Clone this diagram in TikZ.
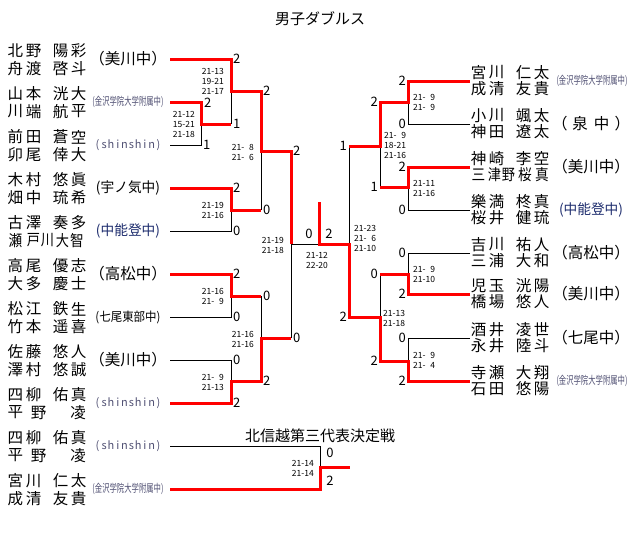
\documentclass[tikz,border=0pt]{standalone}
\usepackage{fontspec}
\setmainfont{Noto Sans CJK JP}
\usepackage{graphicx}
\usetikzlibrary{calc}
\definecolor{redline}{RGB}{255,0,0}
\definecolor{grayblue}{RGB}{80,80,115}
\definecolor{navyt}{RGB}{30,45,110}
\tikzset{
  redl/.style={draw=redline, line width=3pt},
  blkl/.style={draw=black, line width=1pt},
  nmc/.style={inner sep=0pt, font=\fontsize{15.5}{16}\selectfont},
  gscore/.style={inner sep=0pt, font=\fontsize{13}{13}\selectfont},
  mscL/.style={inner sep=0pt, anchor=east, align=right, font=\fontsize{8.5}{10}\selectfont},
  mscR/.style={inner sep=0pt, anchor=west, align=left, font=\fontsize{8.5}{10}\selectfont},
  mscC/.style={inner sep=0pt, align=center, font=\fontsize{8.5}{10}\selectfont},
  schoolbox/.style={inner sep=0pt},
  titlebox/.style={inner sep=0pt, font=\fontsize{15}{15}\selectfont},
}
\newcommand\pn[7]{%
  \node[nmc] (#1a) at ({#2},{#3}) {#4};
  \node[nmc] (#1b) at ({#2+18},{#3}) {#5};
  \node[nmc] (#1c) at ({#2+45},{#3}) {#6};
  \node[nmc] (#1d) at ({#2+63},{#3}) {#7};}
\newcommand\schBig[4]{\node[schoolbox, font=\fontsize{15.5}{16}\selectfont] (#1) at (#2,#3) {#4};}
\newcommand\schUno[4]{\node[schoolbox] (#1) at (#2,#3) {\resizebox{64pt}{\height}{\fontsize{14}{14}\selectfont #4}};}
\newcommand\schNot[3]{\node[schoolbox, text=navyt] (#1) at (#2,#3) {\resizebox{64pt}{\height}{\fontsize{14}{14}\selectfont (中能登中)}};}
\newcommand\schNan[4]{\node[schoolbox] (#1) at (#2,#3) {\resizebox{65pt}{\height}{\fontsize{12.5}{13}\selectfont #4}};}
\newcommand\schKan[3]{\node[schoolbox, text=grayblue] (#1) at (#2,#3) {\resizebox{71pt}{\height}{\fontsize{11}{11}\selectfont (金沢学院大学附属中)}};}
\newcommand\lc[1]{\makebox[6.8pt]{#1}}
\newcommand\schShin[3]{\node[schoolbox, text=grayblue, font=\fontsize{11}{11}\selectfont] (#1) at (#2,#3) {\lc(\lc s\lc h\lc i\lc n\lc s\lc h\lc i\lc n\lc)};}
\begin{document}
\begin{tikzpicture}[x=1pt,y=-1pt]
\useasboundingbox[fill=white] (0,0) rectangle (640,541);
\node[titlebox] (title) at (320,18.5) {男子ダブルス};
\node[titlebox] (title2) at (320,436) {北信越第三代表決定戦};

% ---------- coordinates ----------
\coordinate (L1) at (170,59);  \coordinate (L2) at (170,102); \coordinate (L3) at (170,145);
\coordinate (L4) at (170,188); \coordinate (L5) at (170,231); \coordinate (L6) at (170,274);
\coordinate (L7) at (170,317); \coordinate (L8) at (170,360); \coordinate (L9) at (170,403);
\coordinate (M1) at (201,124); \coordinate (M2) at (231,91);  \coordinate (M3) at (231,210);
\coordinate (M4) at (261,151); \coordinate (M5) at (231,296); \coordinate (M6) at (231,381);
\coordinate (M7) at (261,338); \coordinate (M8) at (291,244);
\coordinate (F) at (319,244);  \coordinate (FT) at (319,202);
\coordinate (R1) at (470,81);  \coordinate (R2) at (470,124); \coordinate (R3) at (470,167);
\coordinate (R4) at (470,210); \coordinate (R5) at (470,253); \coordinate (R6) at (470,294);
\coordinate (R7) at (470,338); \coordinate (R8) at (470,381);
\coordinate (N1) at (408,102); \coordinate (N2) at (408,187); \coordinate (N3) at (380,146);
\coordinate (N4) at (408,274); \coordinate (N5) at (408,361); \coordinate (N6) at (380,317);
\coordinate (N7) at (349,244);
\coordinate (B1) at (170,446); \coordinate (B2) at (170,489);
\coordinate (BM) at (320,467); \coordinate (BE) at (350,467);

% ---------- black lines ----------
\draw[blkl] (L3) -| (M1);
\draw[blkl] (M1 -| M2) -- (M2);
\draw[blkl] (L5) -| (M3);
\draw[blkl] (M3 -| M4) -- (M4);
\draw[blkl] (L7) -| (M5);
\draw[blkl] (L8) -| (M6);
\draw[blkl] (M5 -| M7) -- (M7);
\draw[blkl] (M7 -| M8) -- (M8) -- (F);
\draw[blkl] (R2) -| (N1);
\draw[blkl] (R4) -| (N2);
\draw[blkl] (N2 -| N3) -- (N3);
\draw[blkl] (R5) -| (N4);
\draw[blkl] (R7) -| (N5);
\draw[blkl] (N4 -| N6) -- (N6);
\draw[blkl] (N3 -| N7) -- (N7);
\draw[blkl] (B1) -| (BM);

% ---------- red lines ----------
\draw[redl] (L1) -| (M2) -| (M4) -| (M8);
\draw[redl] (L2) -| (M1) -- (M1 -| M2);
\draw[redl] (L4) -| (M3) -- (M3 -| M4);
\draw[redl] (L6) -| (M5) -- (M5 -| M7);
\draw[redl] (L9) -| (M6) -| (M7) -- (M7 -| M8);
\draw[redl] (R8) -| (N5) -| (N6) -| (N7) -| (FT);
\draw[redl] (R1) -| (N1) -| (N3) -- (N3 -| N7);
\draw[redl] (R3) -| (N2) -- (N2 -| N3);
\draw[redl] (R6) -| (N4) -- (N4 -| N6);
\draw[redl] (B2) -| (BM) -- (BE);

% ---------- game counts ----------
\node[gscore, anchor=west] (g1) at (204,103) {2};
\node[gscore, anchor=west] (g2) at (203,145) {1};
\node[gscore, anchor=west] (g3) at (233,59) {2};
\node[gscore, anchor=west] (g4) at (233,124) {1};
\node[gscore, anchor=west] (g5) at (233,188) {2};
\node[gscore, anchor=west] (g6) at (233,231) {0};
\node[gscore, anchor=west] (g7) at (263,91) {2};
\node[gscore, anchor=west] (g8) at (263,210) {0};
\node[gscore, anchor=west] (g9) at (233,274) {2};
\node[gscore, anchor=west] (g10) at (233,317) {0};
\node[gscore, anchor=west] (g11) at (233,360) {0};
\node[gscore, anchor=west] (g12) at (233,403) {2};
\node[gscore, anchor=west] (g13) at (263,296) {0};
\node[gscore, anchor=west] (g14) at (263,381) {2};
\node[gscore, anchor=west] (g15) at (293,151) {2};
\node[gscore, anchor=west] (g16) at (293,338) {0};
\node[gscore] (g17) at (309,234) {0};
\node[gscore] (g18) at (329,234) {2};
\node[gscore, anchor=east] (h1) at (406,81) {2};
\node[gscore, anchor=east] (h2) at (406,124) {0};
\node[gscore, anchor=east] (h3) at (406,167) {2};
\node[gscore, anchor=east] (h4) at (406,210) {0};
\node[gscore, anchor=east] (h5) at (378,102) {2};
\node[gscore, anchor=east] (h6) at (378,187) {1};
\node[gscore, anchor=east] (h7) at (406,253) {0};
\node[gscore, anchor=east] (h8) at (406,294) {2};
\node[gscore, anchor=east] (h9) at (406,338) {0};
\node[gscore, anchor=east] (h10) at (406,381) {2};
\node[gscore, anchor=east] (h11) at (378,274) {0};
\node[gscore, anchor=east] (h12) at (378,361) {2};
\node[gscore, anchor=east] (h13) at (347,146) {1};
\node[gscore, anchor=east] (h14) at (347,317) {2};
\node[gscore] (b1) at (330,453) {0};
\node[gscore] (b2) at (330,481) {2};

% ---------- match scores ----------
\node[mscL] (s1) at (195,124) {21-12\\15-21\\21-18};
\node[mscL] (s2) at (224,81) {21-13\\19-21\\21-17};
\node[mscL] (s3) at (224,210) {21-19\\21-16};
\node[mscL] (s4) at (254,152) {21-\phantom{0}8\\21-\phantom{0}6};
\node[mscL] (s5) at (224,296) {21-16\\21-\phantom{0}9};
\node[mscL] (s6) at (224,382) {21-\phantom{0}9\\21-13};
\node[mscL] (s7) at (254,339) {21-16\\21-16};
\node[mscL] (s8) at (284,245) {21-19\\21-18};
\node[mscR] (t1) at (413,102) {21-\phantom{0}9\\21-\phantom{0}9};
\node[mscR] (t2) at (413,188) {21-11\\21-16};
\node[mscR] (t3) at (384,145) {21-\phantom{0}9\\18-21\\21-16};
\node[mscR] (t4) at (413,274) {21-\phantom{0}9\\21-10};
\node[mscR] (t5) at (413,360) {21-\phantom{0}9\\21-\phantom{0}4};
\node[mscR] (t6) at (383,318) {21-13\\21-18};
\node[mscR] (t7) at (354,238) {21-23\\21-\phantom{0}6\\21-10};
\node[mscC] (sf) at (317,260) {21-12\\22-20};
\node[mscL] (sb) at (314,468) {21-14\\21-14};

% ---------- left names ----------
\pn{a1}{15.5}{51}{北}{野}{陽}{彩}   \pn{a2}{15.5}{68.5}{舟}{渡}{啓}{斗}
\pn{b1n}{15.5}{94}{山}{本}{洸}{大}  \pn{b2n}{15.5}{111.5}{川}{端}{航}{平}
\pn{c1}{15.5}{137}{前}{田}{蒼}{空}  \pn{c2}{15.5}{154.5}{卯}{尾}{倖}{大}
\pn{d1}{15.5}{180}{木}{村}{悠}{眞}  \pn{d2}{15.5}{197.5}{畑}{中}{琉}{希}
\pn{e1}{15.5}{223}{古}{澤}{奏}{多}
\node[nmc] (e2a) at (15.5,240.5) {\scalebox{0.88}[1]{瀬}};
\node[nmc] (e2b) at (33.5,240.5) {\scalebox{0.85}[1]{戸}};
\node[nmc] (e2c) at (47.5,240.5) {\scalebox{0.85}[1]{川}};
\node[nmc] (e2d) at (62.5,240.5) {\scalebox{0.85}[1]{大}};
\node[nmc] (e2e) at (77,240.5) {\scalebox{0.88}[1]{智}};
\pn{f1}{15.5}{266}{高}{尾}{優}{志}  \pn{f2}{15.5}{283.5}{大}{多}{慶}{士}
\pn{g1n}{15.5}{309}{松}{江}{鉄}{生}  \pn{g2n}{15.5}{326.5}{竹}{本}{遥}{喜}
\pn{h1n}{15.5}{352}{佐}{藤}{悠}{人}  \pn{h2n}{15.5}{369.5}{澤}{村}{悠}{誠}
\pn{i1}{15.5}{395}{四}{柳}{佑}{真}
\node[nmc] (i2a) at (15.5,412.5) {平};
\node[nmc] (i2b) at (38.5,412.5) {野};
\node[nmc] (i2c) at (78,412.5) {凌};
\pn{j1}{15.5}{438}{四}{柳}{佑}{真}
\node[nmc] (j2a) at (15.5,455.5) {平};
\node[nmc] (j2b) at (38.5,455.5) {野};
\node[nmc] (j2c) at (78,455.5) {凌};
\pn{k1}{15.5}{481}{宮}{川}{仁}{太}  \pn{k2}{15.5}{498.5}{成}{清}{友}{貴}

% ---------- right names ----------
\pn{p1}{478.5}{72.5}{宮}{川}{仁}{太}  \pn{p2}{478.5}{89}{成}{清}{友}{貴}
\pn{q1}{478.5}{115.5}{小}{川}{颯}{太} \pn{q2}{478.5}{132}{神}{田}{遼}{太}
\pn{r1}{478.5}{158.5}{神}{崎}{李}{空}
\node[nmc] (r2a) at (478.5,175) {\scalebox{0.88}[1]{三}};
\node[nmc] (r2b) at (494.5,175) {\scalebox{0.85}[1]{津}};
\node[nmc] (r2c) at (508.5,175) {\scalebox{0.85}[1]{野}};
\node[nmc] (r2d) at (525,175) {\scalebox{0.88}[1]{桜}};
\node[nmc] (r2e) at (542,175) {\scalebox{0.88}[1]{真}};
\pn{u1}{478.5}{201.5}{樂}{満}{柊}{真} \pn{u2}{478.5}{218}{桜}{井}{健}{琉}
\pn{v1}{478.5}{244.5}{吉}{川}{祐}{人} \pn{v2}{478.5}{261}{三}{浦}{大}{和}
\pn{w1}{478.5}{285.5}{児}{玉}{洸}{陽} \pn{w2}{478.5}{302}{橋}{場}{悠}{人}
\pn{x1}{478.5}{329.5}{酒}{井}{凌}{世} \pn{x2}{478.5}{346}{永}{井}{陸}{斗}
\pn{y1}{478.5}{372.5}{寺}{瀬}{大}{翔} \pn{y2}{478.5}{389}{石}{田}{悠}{陽}

% ---------- schools ----------
\schBig{sa}{128}{59}{（美川中）}
\schKan{sb}{128}{102}
\schShin{sc}{128}{145}
\schUno{sd}{128}{188}{(宇ノ気中)}
\schNot{se}{128}{231}
\schBig{sf2}{128}{274}{（高松中）}
\schNan{sg}{128}{317}{(七尾東部中)}
\schBig{sh}{128}{360}{（美川中）}
\schShin{si}{128}{403}
\schShin{sj}{128}{446}
\schKan{sk}{128}{489}
\schKan{sp}{592}{81}
\schBig{sq}{591}{124}{（\hspace{5pt}泉\hspace{6pt}中\hspace{5pt}）}
\schBig{sr}{591}{167}{（美川中）}
\schNot{su}{591}{210}
\schBig{sv}{591}{253}{（高松中）}
\schBig{sw}{591}{294}{（美川中）}
\schBig{sx}{591}{338}{（七尾中）}
\schKan{sy}{592}{381}
\end{tikzpicture}
\end{document}
